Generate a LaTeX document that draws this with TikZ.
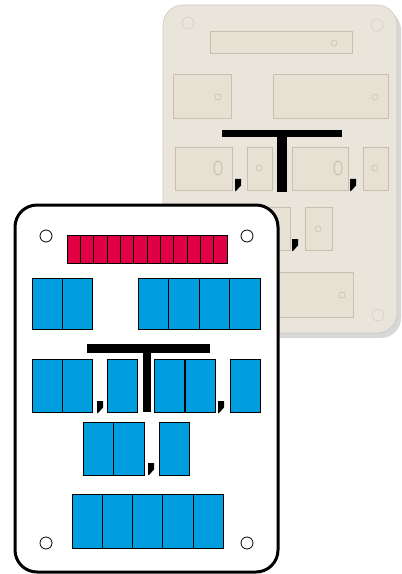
\documentclass[tikz,border=0pt]{standalone}
\usepackage{xcolor}
\usepackage{tikz}
\usetikzlibrary{shadows}
\definecolor{cellblue}{RGB}{0,158,222}
\definecolor{cellred}{RGB}{226,0,68}
\definecolor{plate}{RGB}{234,229,219}
\definecolor{recess}{RGB}{231,225,212}
\definecolor{rim}{RGB}{200,191,174}
\newcommand{\commamark}[2]{\fill (#1,#2) -- ++(6,0) -- ++(0,6.5) -- ++(-5,5.5) -- ++(-1,0) -- cycle;}

\begin{document}
\begin{tikzpicture}[x=0.5mm,y=-0.5mm,
  recessbox/.style={fill=recess,draw=rim,line width=0.4mm},
  bluecell/.style={fill=cellblue,draw=black,line width=0.45mm},
  redcell/.style={fill=cellred,draw=black,line width=0.45mm}]
  \useasboundingbox (0,0) rectangle (401,574);
  % back plate
  \draw[fill=plate,draw=plate!88!black,line width=0.3mm,rounded corners=10mm,
    drop shadow={shadow xshift=2mm,shadow yshift=-2.5mm,fill=black!35,opacity=0.45}] (163,5) rectangle (397,333);
  \foreach \xa/\ya/\xb/\yb in {210/31/352/53,173/74/231/118,273/74/388/118,
      175/147/232/190,247/147/272/190,292/147/348/190,363/147/388/190,
      250/207/290/250,305/207/332/250,250/272/353/317}
    \draw[recessbox] (\xa,\ya) rectangle (\xb,\yb);
  \foreach \x/\y in {334/43,218/97,375/97,259/168,375/168,318/229,342/295}
    \draw[rim,line width=0.3mm] (\x,\y) circle (1.5mm);
  \foreach \x/\y in {218/168,338/168}
    \draw[rim,line width=0.5mm] (\x,\y) ellipse (2mm and 3.5mm);
  \foreach \x/\y in {188/23,377/25,378/315}
    \draw[plate!90!black,line width=0.3mm] (\x,\y) circle (3mm);
  \fill (222,130) rectangle (342,137);
  \fill (277,137) rectangle (287,192);
  \commamark{235}{179}
  \commamark{350}{179}
  \commamark{292}{239}
  % front plate
  \draw[fill=white,draw=black,line width=1.5mm,rounded corners=11mm] (15,205) rectangle (278,572);
  \foreach \x/\y in {46/236,247/236,46/543,247/543}
    \draw[line width=0.4mm] (\x,\y) circle (3mm);
  \foreach \i in {0,...,11}
    \draw[redcell] ({67+13.33*\i},235) rectangle ++(13.33,28);
  \foreach \x in {32,62,138,168.5,199,229.5}
    \draw[bluecell] (\x,278) rectangle ++(30.5,51);
  \foreach \x in {32,62,107,154,185,230}
    \draw[bluecell] (\x,359) rectangle ++(30.5,53);
  \foreach \x in {83,113.5,159}
    \draw[bluecell] (\x,422) rectangle ++(30.5,53);
  \foreach \x in {72,102.3,132.6,162.9,193.2}
    \draw[bluecell] (\x,494) rectangle ++(30.3,54);
  \fill (87,344) rectangle (210,353);
  \fill (143,353) rectangle (151,412);
  \commamark{97}{401}
  \commamark{218}{401}
  \commamark{148}{463}
\end{tikzpicture}
\end{document}
